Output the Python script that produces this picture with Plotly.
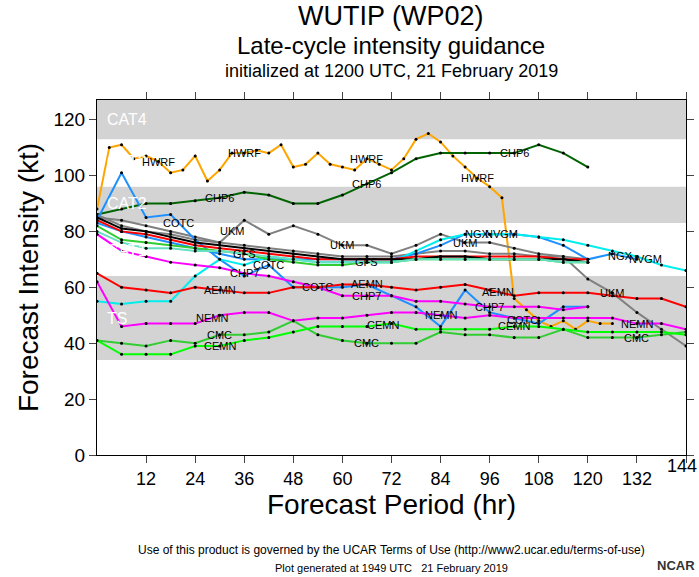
import numpy as np
import plotly.graph_objects as go

# ---- data ----
t3 = [0,3,6,9,12,15,18,21,24,27,30,33,36,39,42,45,48,51,54,57,60,63,66,69,72,75,78,81,84,87,90,93,96,99,102,105,108,111,114,117,120,123,126]
hwrf = [88,110,111,106,107,105,101,102,107,98,102,108,108,109,108,111,103,104,108,104,103,102,106,104,102,106,113,115,112,107,103,99,96,92,56,52,48,46,48,45,48,47,47]
t6 = [0,6,12,18,24,30,36,42,48,54,60,66,72,78,84,90,96,102,108,114,120]
chp6 = [86,88,90,90,91,92,94,93,90,90,93,97,101,106,108,108,108,108,111,108,103]
t6x = [0,6,12,18,24,30,36,42,48,54,60,66,72,78,84,90,96,102,108,114,120,126,132,138,144]
ukm = [85,84,82,80,78,76,84,79,82,79,75,75,72,75,79,76,76,74,72,71,63,58,51,45,39]
conw = [86,82,80,79,77,76,75,74,73,72,71,71,71,72,73,73,72,72,71,71,70]
cotc = [84,101,85,86,77,70,64,68,60,60,60,61,57,53,46,59,51,49,47,53,53]
ngx = [83,80,78,76,74,72,70,70,70,70,70,70,70,72,75,79,79,79,78,75,70,72,70]
t6n = t6 + [126,132]
nvgm = [55,54,55,55,64,70,68,71,70,69,69,69,69,73,77,79,79,79,78,77,75,73,71,68,66]
chp7 = [79,73,71,69,68,67,65,64,62,60,57,57,57,55,55,54,53,53,53,52,53]
nemn = [62,46,47,47,47,50,51,51,48,49,49,50,51,51,50,49,50,49,49,49,49,49,47,47,45]
aemn = [65,60,59,58,60,59,58,58,60,60,61,61,60,59,60,61,59,57,58,58,58,57,56,56,53]
redc = [84,80,79,77,75,74,73,72,71,70,70,70,70,71,71,71,71,71,71,70,70]
blkc = [85,81,80,78,76,75,74,73,72,71,70,70,70,70,71,71,70,70,70,70,69]
gfs = [82,77,76,75,74,73,72,70,69,68,68,69,69,70,70,70,70,70,70,69,69]
aqua = [80,76,74,74,73,73,72,71,70,69,69,69,69,70,70,70,70,70,70,69,69]
cmc = [41,40,39,41,40,43,43,44,48,43,41,40,40,40,44,43,43,42,42,45,42,42,42,43,44]
cemn = [41,36,36,36,39,39,41,42,44,46,46,46,47,45,45,45,45,46,46,45,44,44,44,44,43]
xticks = list(range(12, 145, 12))

series = [
    ("HWRF", t3, hwrf, "#ffa500", [15, 36, 66, 93]),
    ("CHP6", t6, chp6, "#006400", [30, 66, 102]),
    ("UKM", t6x, ukm, "#808080", [33, 60, 90, 126]),
    ("", t6, conw, "#808080", []),
    ("COTC", t6, cotc, "#1e90ff", [20, 42, 54, 104]),
    ("NGX", t6n, ngx, "#1e90ff", [93, 128]),
    ("NVGM", t6x, nvgm, "#00eeee", [99, 134]),
    ("CHP7", t6, chp7, "#ff00ff", [36, 66, 96]),
    ("NEMN", t6x, nemn, "#ff00ff", [28, 84, 132]),
    ("AEMN", t6x, aemn, "#ff0000", [30, 66, 98]),
    ("", t6, redc, "#ff0000", []),
    ("", t6, blkc, "#000000", []),
    ("GFS", t6, gfs, "#32cd32", [36, 66]),
    ("", t6, aqua, "#66e0c0", []),
    ("CMC", t6x, cmc, "#32cd32", [30, 66, 132]),
    ("CEMN", t6x, cemn, "#00ff00", [30, 70, 102]),
]

bands = [(113, 127, "#d3d3d3"), (83, 96, "#d3d3d3"), (34, 64, "#d3d3d3")]
band_labels = [("CAT4", 120), ("CAT3", 105), ("CAT2", 90), ("CAT1", 73), ("TS", 49)]

PL, PT, PW, PH = 97, 100, 589, 355  # plot area in page pixels

fig = go.Figure()
for y0, y1, c in bands:
    fig.add_shape(type="rect", xref="paper", x0=0, x1=1, y0=y0, y1=y1,
                  fillcolor=c, line_width=0, layer="below")
for name, lab_y in band_labels:
    fig.add_annotation(x=2, y=lab_y, text=name, showarrow=False, xanchor="left",
                       font=dict(size=16, color="white", family="Liberation Sans"))

for name, t, v, c, labs in series:
    fig.add_trace(go.Scatter(x=t, y=v, mode="lines+markers",
                             line=dict(color=c, width=2),
                             marker=dict(color="black", size=3),
                             showlegend=False, hoverinfo="skip"))
    for lt in labs:
        ly = float(np.interp(lt, t, v))
        fig.add_annotation(x=lt, y=ly, text=name, showarrow=False,
                           font=dict(size=11, color="black", family="Liberation Sans"))

fig.update_layout(
    width=699, height=577,
    margin=dict(l=PL, r=699 - PL - PW, t=PT, b=577 - PT - PH, autoexpand=False),
    paper_bgcolor="white", plot_bgcolor="white",
    font=dict(family="Liberation Sans", color="black"),
)
fig.update_xaxes(range=[0, 144], tickvals=xticks, ticktext=[str(v) for v in xticks[:-1]] + [""],
                 ticks="outside",
                 ticklen=7, showgrid=False, zeroline=False, showline=True,
                 linecolor="black", linewidth=1, mirror="ticks", automargin=False,
                 tickfont=dict(size=18),
                 title=dict(text="Forecast Period (hr)", font=dict(size=28), standoff=6))
fig.update_yaxes(range=[0, 127], tickvals=list(range(0, 121, 20)), ticks="outside",
                 ticklen=7, showgrid=False, zeroline=False, showline=True,
                 linecolor="black", linewidth=1, mirror="ticks", automargin=False,
                 tickfont=dict(size=19),
                 title=dict(text="Forecast Intensity (kt)", font=dict(size=28), standoff=6))

def px(x):
    return (x - PL) / PW

def py(y):
    return 1 - (y - PT) / PH

fig.add_annotation(xref="paper", yref="paper", x=px(699), y=py(466), xanchor="right",
                   yanchor="middle", showarrow=False, text=str(xticks[-1]),
                   font=dict(size=18))

texts = [
    ("WUTIP (WP02)", 16, 27),
    ("Late-cycle intensity guidance", 46, 24),
    ("initialized at 1200 UTC, 21 February 2019", 71, 18),
    ("Use of this product is governed by the UCAR Terms of Use (http://www2.ucar.edu/terms-of-use)", 550, 12),
    ("Plot generated at 1949 UTC   21 February 2019", 568, 11),
]
for txt, yy, sz in texts:
    fig.add_annotation(xref="paper", yref="paper", x=px(391), y=py(yy), yanchor="middle",
                       showarrow=False, text=txt, font=dict(size=sz))
fig.add_annotation(xref="paper", yref="paper", x=px(697), y=py(565), xanchor="right",
                   yanchor="middle", showarrow=False, text="<b>NCAR</b>",
                   font=dict(size=13, color="#333333"))

fig.write_html("out.html", config={"displayModeBar": False},
               post_script="document.body.style.margin='0';")
